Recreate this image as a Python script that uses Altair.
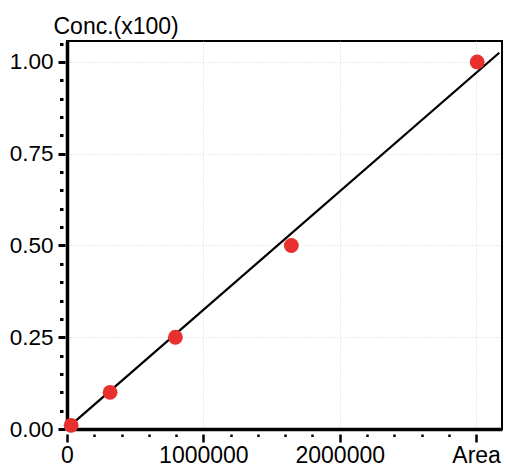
import altair as alt
import pandas as pd

# Calibration standards: peak area vs. concentration
area = [30000, 316000, 795000, 1645000, 3008000]
conc = [0.01, 0.10, 0.25, 0.50, 1.00]

# Calibration line end points
fit_area = [0, 3170000]
fit_conc = [0.002, 1.025]

# Tick positions
x_major = [0, 1000000, 2000000, 3000000]
x_minor = [200000, 400000, 600000, 800000, 1200000, 1400000, 1600000, 1800000,
           2200000, 2400000, 2600000, 2800000]
y_major = [0.0, 0.25, 0.5, 0.75, 1.0]
y_grid = [0.25, 0.5, 0.75, 1.0]
y_minor = [0.05, 0.10, 0.15, 0.20, 0.30, 0.35, 0.40, 0.45, 0.55, 0.60, 0.65,
           0.70, 0.80, 0.85, 0.90, 0.95, 1.05]

FONT = "Liberation Sans"
FS = 23

pts = pd.DataFrame({"area": area, "conc": conc})
fit = pd.DataFrame({"area": fit_area, "conc": fit_conc})

xs = alt.Scale(domain=[0, 3190000], nice=False, zero=False)
ys = alt.Scale(domain=[0, 1.057], nice=False, zero=False)

# Major ticks and labels, set slightly off the frame
major = alt.Chart(fit).mark_line(color="black", strokeWidth=2.3).encode(
    x=alt.X("area:Q", scale=xs, axis=alt.Axis(
        orient="bottom", offset=5, domain=False, grid=False, values=x_major,
        tickSize=8, tickWidth=2.5, tickColor="black", format="d",
        labelExpr="datum.value == 3000000 ? 'Area' : datum.label",
        labelFont=FONT, labelFontSize=FS, labelColor="black", labelPadding=2,
        labelFlush=False, labelOverlap=False, title=None)),
    y=alt.Y("conc:Q", scale=ys, axis=alt.Axis(
        orient="left", offset=2, domain=False, grid=False, values=y_major,
        tickSize=7, tickWidth=3, tickColor="black", format=".2f",
        labelFont=FONT, labelFontSize=22.5, labelColor="black", labelPadding=5,
        labelFlush=False, labelOverlap=False, title=None)),
)

# Minor ticks
minor = alt.Chart(fit).mark_line(opacity=0).encode(
    x=alt.X("area:Q", scale=xs, axis=alt.Axis(
        orient="bottom", offset=5, domain=False, grid=False, values=x_minor,
        tickSize=2.5, tickWidth=2.5, tickColor="black", labels=False, title=None)),
    y=alt.Y("conc:Q", scale=ys, axis=alt.Axis(
        orient="left", offset=4, domain=False, grid=False, values=y_minor,
        tickSize=3.5, tickWidth=3, tickColor="black", labels=False, title=None)),
)

# Standards, frame lines and dotted grid
points = alt.Chart(pts).mark_circle(size=220, color="#e8312f", opacity=1).encode(
    x=alt.X("area:Q", scale=xs, axis=alt.Axis(
        orient="bottom", domain=True, domainColor="black", domainWidth=3.5,
        ticks=False, labels=False, grid=True, values=x_major,
        gridColor="#d6d6d6", gridDash=[1, 2], gridWidth=1, title=None)),
    y=alt.Y("conc:Q", scale=ys, axis=alt.Axis(
        orient="left", domain=True, domainColor="black", domainWidth=3.5,
        ticks=False, labels=False, grid=True, values=y_grid,
        gridColor="#d6d6d6", gridDash=[1, 2], gridWidth=1,
        title="Conc.(x100)", titleAngle=0, titleAlign="left",
        titleBaseline="alphabetic", titleX=-14, titleY=-8,
        titleFont=FONT, titleFontSize=FS, titleFontWeight="normal",
        titleColor="black")),
)

chart = alt.layer(major, minor, points).resolve_axis(
    x="independent", y="independent"
).properties(
    width=435, height=388,
    autosize=alt.AutoSizeParams(type="none"),
    padding={"left": 67, "top": 41, "right": 4, "bottom": 37},
).configure_view(stroke="black", strokeWidth=2)

chart.save("out.html", embed_options={"renderer": "svg", "actions": False})
